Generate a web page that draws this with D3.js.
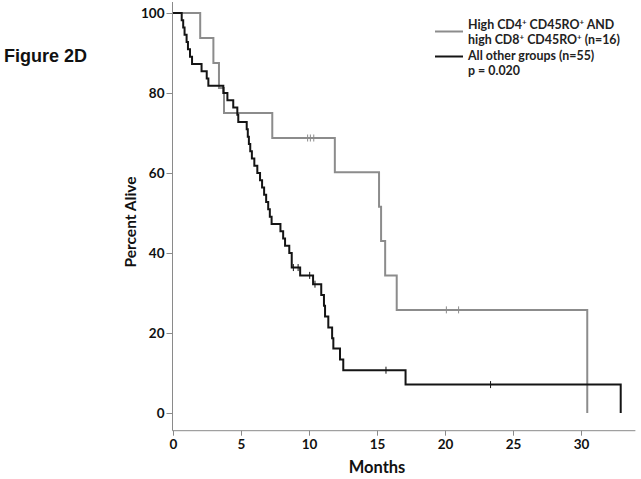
<!DOCTYPE html>
<html>
<head>
<meta charset="utf-8">
<script src="https://cdn.jsdelivr.net/npm/d3@7"></script>
<style>
  body { margin: 0; background: #fff; }
  svg { display: block; }
  text { font-family: Lato, "Open Sans", sans-serif; }
</style>
</head>
<body>
<svg id="chart" width="641" height="479"></svg>
<script>
// ---- data ----
const xTicks = [0, 5, 10, 15, 20, 25, 30];
const yTicks = [0, 20, 40, 60, 80, 100];

// High CD4+ CD45RO+ AND high CD8+ CD45RO+ (n=16)
const highTimes = [0, 2.0, 2.97, 3.38, 3.75, 7.3, 11.9, 15.15, 15.3, 15.6, 16.45, 30.46];
const highSurv  = [100, 93.75, 87.5, 81.25, 75, 68.75, 60.16, 51.56, 42.97, 34.38, 25.78, 0];
const highCensored = [9.9, 10.1, 10.35, 20.1, 21.0];

// All other groups (n=55)
const otherTimes = [0, 0.64, 0.75, 0.85, 1.0, 1.1, 1.25, 1.4, 2.1, 2.48, 2.6, 3.7, 4.0, 4.43, 4.73, 4.8,
  5.42, 5.5, 5.58, 5.68, 5.8, 5.98, 6.2, 6.4, 6.55, 6.7, 6.85, 7.0, 7.12, 7.25, 7.9, 8.1, 8.24, 8.55, 8.73,
  9.35, 10.3, 10.9, 11.1, 11.18, 11.42, 11.7, 11.79, 12.28, 12.52, 17.1, 32.92];
const otherSurv  = [100, 98.18, 96.36, 94.55, 92.73, 90.91, 89.09, 87.27, 85.45, 83.64, 81.82, 80.0, 78.18, 76.36, 74.55, 72.73,
  70.91, 69.09, 67.27, 65.45, 63.64, 61.82, 60.0, 58.18, 56.36, 54.55, 52.73, 50.91, 49.09, 47.27, 45.45, 43.64, 41.82, 40.0, 36.36,
  34.4, 32.2, 29.5, 26.8, 24.1, 21.4, 18.7, 16.1, 13.4, 10.7, 7.1, 0];
const otherCensored = [8.85, 9.2, 10.05, 10.44, 15.66, 23.35];

const legendLabels = ["High CD4", "All other groups (n=55)", "p = 0.020"];

// ---- layout ----
const svg = d3.select("#chart");
const x = d3.scaleLinear().domain([0, 34]).range([173, 635.4]);
const y = d3.scaleLinear().domain([0, 100]).range([413, 13]);
const axisY0 = 430.7;   // x-axis baseline position
const axisX0 = 172.5;

const axisColor = "#8a8a8a";
const grayCol = "#8c8c8c";
const blackCol = "#141414";

// x axis
const gx = svg.append("g").attr("transform", `translate(0,${axisY0})`)
  .call(d3.axisBottom(x).tickValues(xTicks).tickSize(5).tickPadding(4).tickSizeOuter(0));
gx.select(".domain").attr("stroke", axisColor).attr("d", `M${axisX0},0H${x(34)}`);
gx.selectAll(".tick line").attr("stroke", axisColor);
gx.selectAll(".tick text").attr("fill", "#111").style("font-size", "13.5px").style("font-weight", "bold")
  .style("font-family", "Lato, sans-serif");

// y axis
const gy = svg.append("g").attr("transform", `translate(${axisX0},0)`)
  .call(d3.axisLeft(y).tickValues(yTicks).tickSize(6).tickPadding(2).tickSizeOuter(0));
gy.select(".domain").attr("stroke", axisColor).attr("d", `M0,2V${axisY0}`);
gy.selectAll(".tick line").attr("stroke", axisColor);
gy.selectAll(".tick text").attr("fill", "#111").style("font-size", "13.5px").style("font-weight", "bold")
  .style("font-family", "Lato, sans-serif");

// axis titles
svg.append("text").attr("x", 377).attr("y", 473).attr("text-anchor", "middle")
  .style("font-size", "16.5px").style("font-weight", "bold").attr("fill", "#111").text("Months");
svg.append("text").attr("transform", "translate(136,222) rotate(-90)").attr("text-anchor", "middle")
  .style("font-size", "15.5px").style("font-weight", "bold").attr("fill", "#111").text("Percent  Alive");

// Figure label
svg.append("text").attr("x", 4).attr("y", 62)
  .style("font-family", "'Liberation Sans', Arial, sans-serif")
  .style("font-size", "18px").style("font-weight", "bold").attr("fill", "#111").text("Figure 2D");

// curves
const line = d3.line().x(d => x(d[0])).y(d => y(d[1])).curve(d3.curveStepAfter);
function drawCurve(times, surv, censored, color) {
  const pts = times.map((t, i) => [t, surv[i]]);
  svg.append("path").datum(pts).attr("d", line)
    .attr("fill", "none").attr("stroke", color).attr("stroke-width", 2);
  const g = svg.append("g");
  censored.forEach(t => {
    const i = d3.bisectRight(times, t) - 1;
    const s = surv[i];
    g.append("line").attr("x1", x(t)).attr("x2", x(t))
      .attr("y1", y(s) - 3.5).attr("y2", y(s) + 3.5)
      .attr("stroke", color).attr("stroke-width", 1);
  });
}
drawCurve(highTimes, highSurv, highCensored, grayCol);
drawCurve(otherTimes, otherSurv, otherCensored, blackCol);

// legend
const lg = svg.append("g");
lg.append("line").attr("x1", 435).attr("x2", 463).attr("y1", 31.5).attr("y2", 31.5)
  .attr("stroke", grayCol).attr("stroke-width", 2);
lg.append("line").attr("x1", 435).attr("x2", 463).attr("y1", 56.5).attr("y2", 56.5)
  .attr("stroke", blackCol).attr("stroke-width", 2);

function legendText(yPos, parts) {
  const t = lg.append("text").attr("x", 468).attr("y", yPos)
    .style("font-size", "12.4px").style("font-weight", "bold").attr("fill", "#222");
  let shift = 0;
  parts.forEach(p => {
    const ts = t.append("tspan");
    if (p.sup) {
      ts.attr("dy", -4 - shift).style("font-size", "8px").text(p.s);
      shift = -4;
    } else {
      ts.attr("dy", -shift).text(p.s);
      shift = 0;
    }
  });
}
legendText(28.5, [{s: legendLabels[0]}, {s: "+", sup: true}, {s: " CD45RO"}, {s: "+", sup: true}, {s: " AND"}]);
legendText(44, [{s: "high CD8"}, {s: "+", sup: true}, {s: " CD45RO"}, {s: "+", sup: true}, {s: " (n=16)"}]);
legendText(59.5, [{s: legendLabels[1]}]);
legendText(75, [{s: legendLabels[2]}]);
</script>
</body>
</html>
